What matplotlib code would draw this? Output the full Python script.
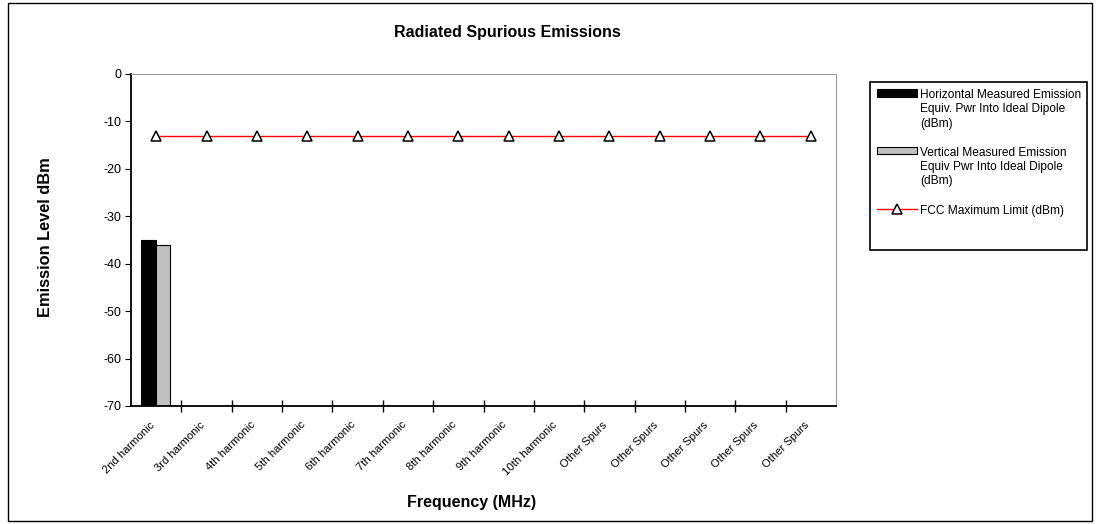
import numpy as np
import matplotlib.pyplot as plt
import matplotlib.transforms as mtransforms
from matplotlib.patches import Rectangle

plt.rcParams['font.family'] = ['Liberation Sans', 'DejaVu Sans']
plt.rcParams['axes.unicode_minus'] = False

categories = ['2nd harmonic', '3rd harmonic', '4th harmonic', '5th harmonic', '6th harmonic',
              '7th harmonic', '8th harmonic', '9th harmonic', '10th harmonic', 'Other Spurs',
              'Other Spurs', 'Other Spurs', 'Other Spurs', 'Other Spurs']
horizontal = [-35] + [np.nan] * 13
vertical = [-36] + [np.nan] * 13
fcc_limit = [-13] * 14
y_ticks = [0, -10, -20, -30, -40, -50, -60, -70]
y_floor = -70

fig = plt.figure(figsize=(10.99, 5.24), dpi=100)
fig.patches.append(Rectangle((0.007, 0.006), 0.987, 0.988, transform=fig.transFigure,
                             fill=False, edgecolor='black', linewidth=1.0))
ax = fig.add_axes([0.1192, 0.2252, 0.6415, 0.6336])

x = np.arange(len(categories))
w = 0.3
# bars rise from the bottom of the axis (Excel style)
b1 = ax.bar(x - w / 2, np.array(horizontal) - y_floor, width=w, bottom=y_floor, color='black',
            edgecolor='black', linewidth=0.8,
            label='Horizontal Measured Emission\nEquiv. Pwr Into Ideal Dipole\n(dBm)')
b2 = ax.bar(x + w / 2 - 0.015, np.array(vertical) - y_floor, width=w * 0.9, bottom=y_floor,
            color='#c0c0c0', edgecolor='black', linewidth=0.8,
            label='Vertical Measured Emission\nEquiv Pwr Into Ideal Dipole\n(dBm)')
ln, = ax.plot(x, fcc_limit, color='red', linewidth=1.0, marker='^', markersize=7.5,
              markerfacecolor='white', markeredgecolor='black', markeredgewidth=1.1,
              label='FCC Maximum Limit (dBm)')

ax.set_xlim(-0.5, len(categories) - 0.5)
ax.set_ylim(y_floor, 0)
ax.set_yticks(y_ticks)
ax.tick_params(axis='y', direction='out', length=4, labelsize=9, pad=3)
ax.set_xticks(x)
ax.set_xticklabels(categories, rotation=45, ha='right', rotation_mode='anchor', fontsize=8.1)
ax.tick_params(axis='x', length=0, pad=7)
shift = mtransforms.ScaledTranslation(-7 / 100, -4 / 100, fig.dpi_scale_trans)
for lab in ax.get_xticklabels():
    lab.set_transform(lab.get_transform() + shift)
ax.set_xticks(np.arange(0.5, len(categories) - 0.5, 1), minor=True)
ax.tick_params(axis='x', which='minor', direction='inout', length=8, width=1.0)

for s in ['top', 'right']:
    ax.spines[s].set_color('#a0a0a0')
for s in ['left', 'bottom']:
    ax.spines[s].set_linewidth(1.3)

fig.text(507 / 1099, 1 - 32 / 524, 'Radiated Spurious Emissions', fontsize=11.5, fontweight='bold',
         ha='center', va='center')
fig.text(472 / 1099, 1 - 502 / 524, 'Frequency (MHz)', fontsize=11.5, fontweight='bold',
         ha='center', va='center')
fig.text(46 / 1099, 1 - 237 / 524, 'Emission Level dBm', fontsize=11.8, fontweight='bold',
         ha='center', va='center', rotation=90)

# legend frame drawn separately (it has empty space at the bottom)
fig.patches.append(Rectangle((870 / 1099, 1 - 250 / 524), 217 / 1099, 168 / 524,
                             transform=fig.transFigure, fill=False, edgecolor='black', linewidth=1.2))
leg = fig.legend(handles=[b1, b2, ln], loc='upper left', bbox_to_anchor=(877 / 1099, 1 - 89 / 524),
                 fontsize=8.6, frameon=False, handlelength=3.35, handleheight=0.6,
                 handletextpad=0.25, labelspacing=1.45, borderpad=0.0, borderaxespad=0.0)
for t in leg.get_texts():
    t.set_linespacing(1.25)
# handles sit next to the first text line, like Excel
for col in leg._legend_handle_box.get_children():
    for item in col.get_children():
        item.align = 'top'

fig.savefig('out.png', dpi=100)
